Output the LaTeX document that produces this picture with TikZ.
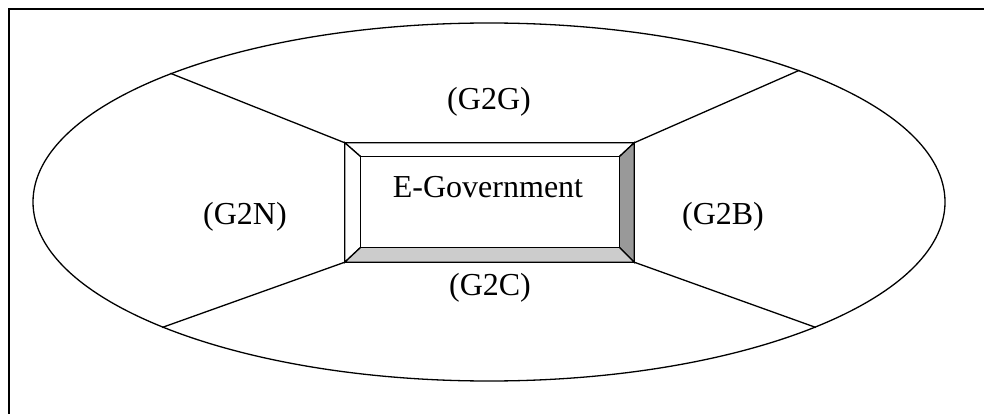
\documentclass[tikz,border=0pt]{standalone}
\usepackage{fontspec}
\setmainfont{Liberation Serif}
\usetikzlibrary{shapes.geometric, calc}
\definecolor{BevelDark}{HTML}{999999}
\definecolor{BevelLight}{HTML}{CCCCCC}
\tikzset{
    frameline/.style={
        draw=black,
        line width=2pt
    },
    ring/.style={
        draw=black,
        ellipse,
        line width=1.3pt,
        minimum width=912pt,
        minimum height=358pt,
        inner sep=0pt
    },
    spoke/.style={
        line width=1.3pt,
        black
    },
    face/.style={
        minimum width=#1,
        inner sep=0pt
    },
    bevel/.style={
        draw=black,
        line width=1.3pt,
        line join=miter,
        fill=#1
    },
    bevel/.default=white,
    tag/.style={
        font=\fontsize{32}{38}\selectfont,
        inner sep=0pt
    }
}

\begin{document}
\begin{tikzpicture}[x=1pt, y=1pt]
        \useasboundingbox (0,0) rectangle (984,413);

        % Frame
        \draw[frameline] (9,-20) rectangle (1000,404);

        % Ellipse and box outlines
        \node[ring] (sector) at (489,211) {};
        \node[face=289pt, minimum height=119pt] (outer) at (489.5,210.5) {};
        \node[face=258pt, minimum height=90pt] (inner) at (490,211) {};

        % Spokes
        \draw[spoke] (outer.north west) -- (sector.158.5);
        \draw[spoke] (outer.north east) -- (sector.23);
        \draw[spoke] (outer.south east) -- (sector.-21.5);
        \draw[spoke] (outer.south west) -- (sector.201.5);

        % Bevelled button
        \draw[bevel] (outer.north west) -- (outer.north east) -- (inner.north east) -- (inner.north west) -- cycle;
        \draw[bevel] (outer.north west) -- (outer.south west) -- (inner.south west) -- (inner.north west) -- cycle;
        \draw[bevel=BevelDark] (outer.north east) -- (outer.south east) -- (inner.south east) -- (inner.north east) -- cycle;
        \draw[bevel=BevelLight] (outer.south west) -- (outer.south east) -- (inner.south east) -- (inner.south west) -- cycle;
        \draw[bevel] (inner.south west) rectangle (inner.north east);

        % Labels
        \node[tag] (title) at (488,226) {E-Government};
        \node[tag] (g2g) at (489,311) {(G2G)};
        \node[tag] (g2n) at (245,196) {(G2N)};
        \node[tag] (g2b) at (723,196) {(G2B)};
        \node[tag] (g2c) at (490,125) {(G2C)};
    \end{tikzpicture}
\end{document}
